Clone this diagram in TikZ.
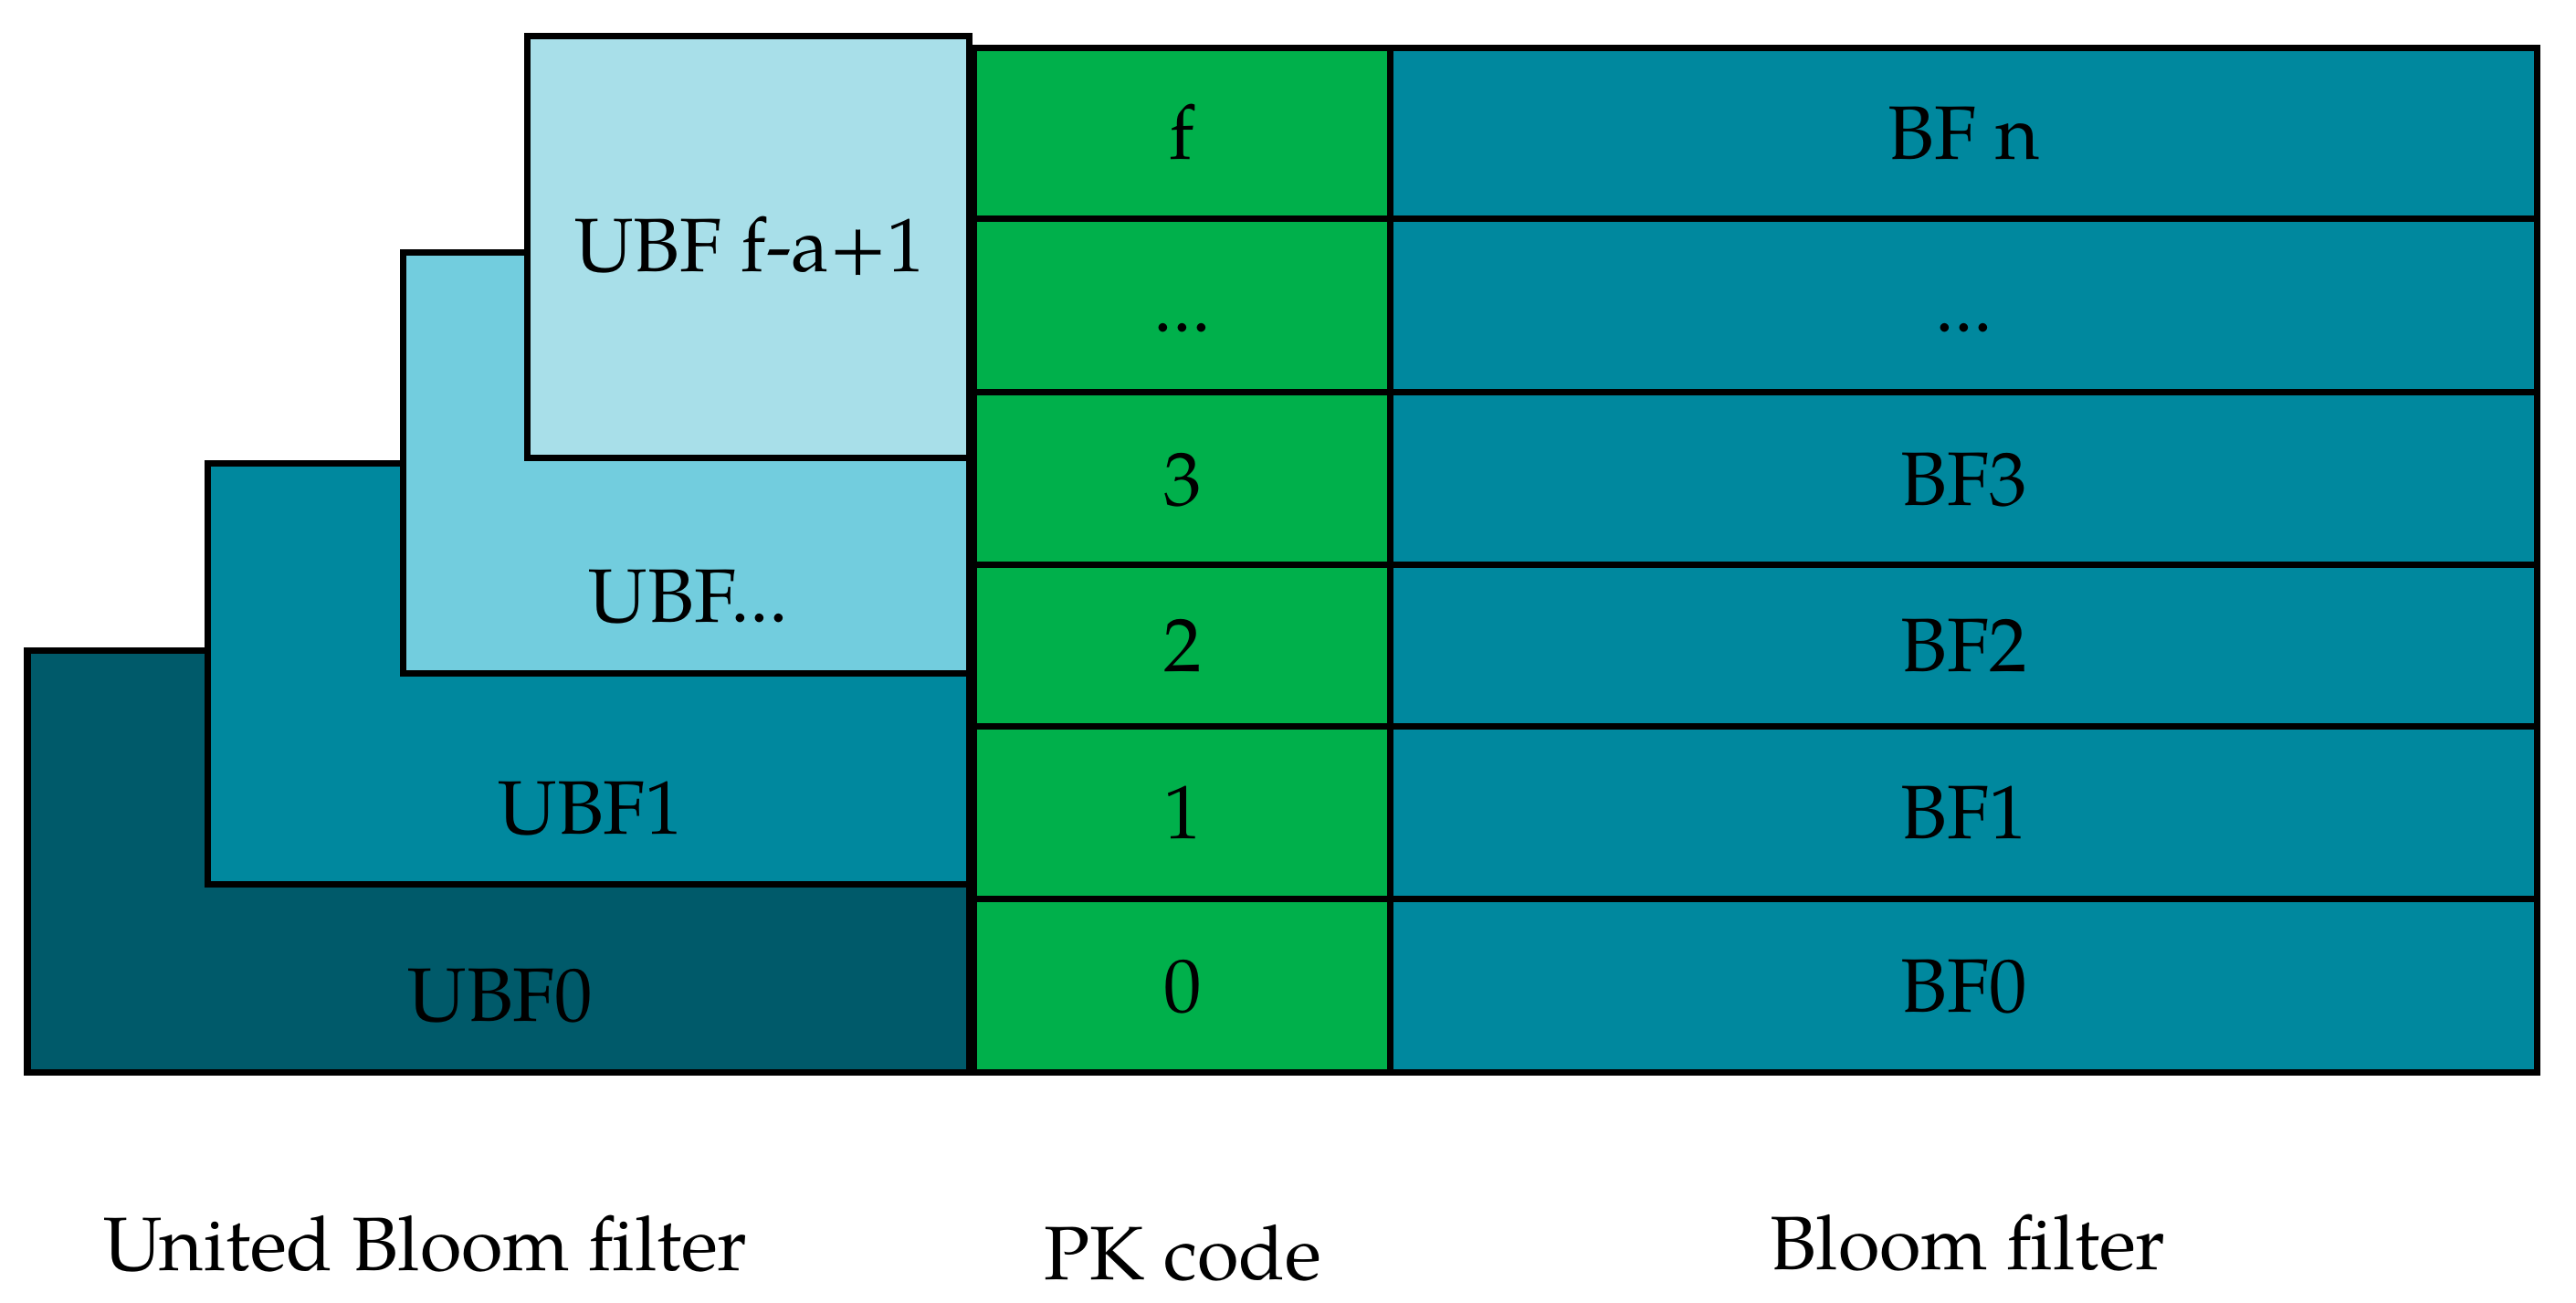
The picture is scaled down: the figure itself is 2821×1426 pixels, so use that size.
\documentclass[tikz,border=0pt]{standalone}
\usepackage{fontspec}
\setmainfont{TeX Gyre Pagella}
\definecolor{ubfA}{HTML}{005A6A}
\definecolor{ubfB}{HTML}{00889E}
\definecolor{ubfC}{HTML}{72CDDE}
\definecolor{ubfD}{HTML}{A8DFE9}
\definecolor{pkgreen}{HTML}{00B04B}
\definecolor{bfteal}{HTML}{00889E}
\begin{document}
\begin{tikzpicture}[x=0.01cm,y=-0.01cm,
  every node/.style={font=\fontsize{23.6}{28}\selectfont},
  box/.style={draw=black,line width=2pt},
  cell/.style={draw=black,line width=2pt,inner sep=0pt,text height=0.57cm,text depth=0pt},
  pk/.style={cell,fill=pkgreen,minimum width=4.565cm},
  bf/.style={cell,fill=bfteal,minimum width=12.555cm},
  lbl/.style={anchor=base,inner sep=0pt}]
\useasboundingbox (0,0) rectangle (2821,1426);
% United Bloom filter stack
\path[box,fill=ubfA] (30,712.5) rectangle (1061.5,1174.5);
\path[box,fill=ubfB] (227.5,507.5) rectangle (1061.5,968.5);
\path[box,fill=ubfC] (441.5,276.5) rectangle (1061.5,737.5);
\path[box,fill=ubfD] (577.5,39.5) rectangle (1061.5,501.5);
\node[lbl] (u0) at (548,1118.5) {UBF0};
\node[lbl] (u1) at (647,913) {UBF1};
\node[lbl] (u2) at (754,681) {UBF...};
\node[lbl] (u3) at (821,297) {UBF f-a+1};
% PK code column
\node[pk,minimum height=1.875cm] (p5) at (1294.75,146.25) {f};
\node[pk,minimum height=1.9cm]   (p4) at (1294.75,335) {...};
\node[pk,minimum height=1.89cm]  (p3) at (1294.75,524.5) {3};
\node[pk,minimum height=1.765cm] (p2) at (1294.75,707.25) {2};
\node[pk,minimum height=1.89cm]  (p1) at (1294.75,890) {1};
\node[pk,minimum height=1.9cm]   (p0) at (1294.75,1079.5) {0};
% Bloom filter column
\node[bf,minimum height=1.875cm] (b5) at (2150.75,146.25) {BF n};
\node[bf,minimum height=1.9cm]   (b4) at (2150.75,335) {...};
\node[bf,minimum height=1.89cm]  (b3) at (2150.75,524.5) {BF3};
\node[bf,minimum height=1.765cm] (b2) at (2150.75,707.25) {BF2};
\node[bf,minimum height=1.89cm]  (b1) at (2150.75,890) {BF1};
\node[bf,minimum height=1.9cm]   (b0) at (2150.75,1079.5) {BF0};
% captions
\node[lbl] (c1) at (466,1391) {United Bloom filter};
\node[lbl] (c2) at (1295,1401) {PK code};
\node[lbl] (c3) at (2155,1390) {Bloom filter};
\end{tikzpicture}
\end{document}
